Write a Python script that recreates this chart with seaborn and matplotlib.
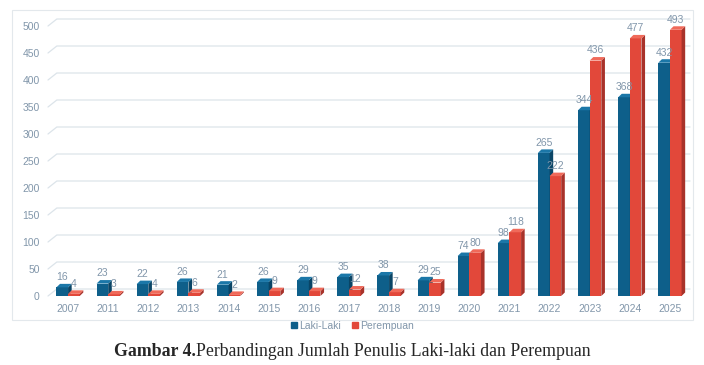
import numpy as np
import pandas as pd
import seaborn as sns
import matplotlib.pyplot as plt
from matplotlib.patches import Polygon, Rectangle
from matplotlib.lines import Line2D

# Data
years = ["2007", "2011", "2012", "2013", "2014", "2015", "2016", "2017",
         "2018", "2019", "2020", "2021", "2022", "2023", "2024", "2025"]
laki = [16, 23, 22, 26, 21, 26, 29, 35, 38, 29, 74, 98, 265, 344, 368, 432]
perempuan = [4, 3, 4, 6, 2, 9, 9, 12, 7, 25, 80, 118, 222, 436, 477, 493]
series = ["Laki-Laki", "Perempuan"]
yticks = [0, 50, 100, 150, 200, 250, 300, 350, 400, 450, 500]

colors = {"Laki-Laki": "#0E5F8A", "Perempuan": "#E2483A"}
side_col = {"Laki-Laki": "#0A4566", "Perempuan": "#A8322A"}
top_col = {"Laki-Laki": "#1B77A8", "Perempuan": "#F06A5A"}
txt_col = "#8196AA"

df = pd.DataFrame({
    "Tahun": years * 2,
    "Jumlah": laki + perempuan,
    "Jenis": [series[0]] * len(years) + [series[1]] * len(years),
})

sns.set_style("white")
plt.rcParams["font.family"] = ["Liberation Sans", "DejaVu Sans"]

fig = plt.figure(figsize=(7.04, 3.65), dpi=100)
W, H = 704, 365
ax = fig.add_axes([48 / W, 1 - 296 / H, (690 - 48) / W, (296 - 26) / H])

sns.barplot(data=df, x="Tahun", y="Jumlah", hue="Jenis", order=years,
            hue_order=series, palette=colors, width=0.58, gap=0,
            saturation=1, legend=False, ax=ax, linewidth=0)

ax.set_xlim(-0.5, len(years) - 0.5)
ax.set_ylim(0, 500)
ax.set_yticks(yticks)
ax.set_xlabel("")
ax.set_ylabel("")
ax.tick_params(axis="both", length=0, labelsize=7.5, labelcolor=txt_col, pad=6)
for s in ax.spines.values():
    s.set_visible(False)
ax.grid(False)

# perspective grid: short diagonal from tick then horizontal back wall line
px = 500 / 270                  # data units per pixel (y)
gdy = 7 * px
gdx = 0.22
for t in yticks:
    ax.plot([-0.5, -0.5 + gdx, len(years) - 0.5], [t, t + gdy, t + gdy],
            color="#DCE4EA", lw=0.9, zorder=0, clip_on=False)

# fake 3D depth on each bar
dx = 0.09                       # depth in x units
dy = 3.5 * px
vals = {series[0]: laki, series[1]: perempuan}
for k, name in enumerate(series):
    bars = ax.patches[k * len(years):(k + 1) * len(years)]
    z = 2 + k * 2
    for b, v in zip(bars, vals[name]):
        b.set_zorder(z)
        x0, w, h = b.get_x(), b.get_width(), b.get_height()
        x1 = x0 + w
        ax.add_patch(Polygon([(x1, 0), (x1 + dx, dy), (x1 + dx, h + dy), (x1, h)],
                             closed=True, fc=side_col[name], ec="none", zorder=z))
        ax.add_patch(Polygon([(x0, h), (x0 + dx, h + dy), (x1 + dx, h + dy), (x1, h)],
                             closed=True, fc=top_col[name], ec="none", zorder=z))
        ax.text(x0 + w / 2, h + dy + 3, str(v), ha="center", va="bottom",
                fontsize=7.5, color=txt_col, zorder=10, clip_on=False)

# light frame around chart
fig.patches.append(Rectangle((12 / W, 1 - 320 / H), (693 - 12) / W, (320 - 10) / H,
                             transform=fig.transFigure, fill=False,
                             ec="#E3E8EC", lw=0.8))

handles = [Line2D([], [], marker="s", ls="", color=colors[s], markersize=4) for s in series]
leg = fig.legend(handles, series, loc="center", bbox_to_anchor=(0.5, 1 - 326 / H),
                 ncol=2, frameon=False, fontsize=7.5, handletextpad=0.1,
                 columnspacing=1.0, handlelength=0.8)
for t in leg.get_texts():
    t.set_color(txt_col)

# caption: bold prefix + regular text
fig.canvas.draw()
r = fig.canvas.get_renderer()
cap_y = 1 - 351 / H
t1 = fig.text(0, cap_y, "Gambar 4.", fontsize=12.8, fontweight="bold",
              family="Liberation Serif", va="center")
t2 = fig.text(0, cap_y, "Perbandingan Jumlah Penulis Laki-laki dan Perempuan",
              fontsize=12.8, family="Liberation Serif", va="center")
w1 = t1.get_window_extent(r).width / W
w2 = t2.get_window_extent(r).width / W
start = 0.5 - (w1 + w2) / 2
t1.set_x(start)
t2.set_x(start + w1)

fig.savefig("out.png", dpi=100)
plt.close(fig)
